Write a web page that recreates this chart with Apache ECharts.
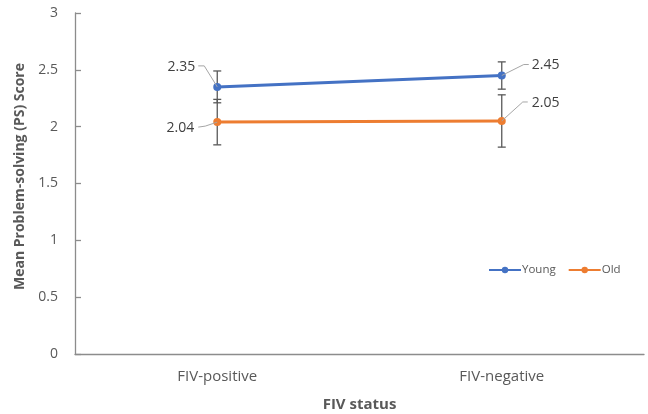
<!DOCTYPE HTML>
<html>
<head>
    <meta charset="UTF-8">
    <title>FIV status chart</title>
    <style>
        body{ margin:0; background-color:#ffffff; }
        #main{ width:648px; height:414px; }
    </style>
    <script src="https://cdn.jsdelivr.net/npm/echarts@6/dist/echarts.min.js"></script>
</head>
<body>
<div id="main"></div>
<script type="text/javascript">
    var categories = ['FIV-positive', 'FIV-negative'];
    var youngMeans = [2.35, 2.45];
    var oldMeans = [2.04, 2.05];
    var youngErr = [0.14, 0.12];
    var oldErr = [0.20, 0.23];
    var yTicks = [0, 0.5, 1, 1.5, 2, 2.5, 3];

    var FONT = '"Open Sans", "Liberation Sans", sans-serif';
    var BLUE = '#4472c4';
    var ORANGE = '#ed7d31';

    // where the value labels sit, relative to the point (elbow, end of line, text anchor)
    var labelPlaces = {
        Young: [
            { elbow: [-13, -21], end: [-19, -21], text: [-22, -20], align: 'right' },
            { elbow: [22, -11], end: [27, -11], text: [30, -11], align: 'left' }
        ],
        Old: [
            { elbow: [-12, 4], end: [-19, 5], text: [-23, 6], align: 'right' },
            { elbow: [21, -19], end: [26, -19], text: [30, -18], align: 'left' }
        ]
    };

    var myChart = echarts.init(document.getElementById('main'));

    function errorBars(means, errs) {
        return means.map(function (m, i) { return [i, m - errs[i], m + errs[i]]; });
    }

    function renderError(params, api) {
        var lo = api.coord([api.value(0), api.value(1)]);
        var hi = api.coord([api.value(0), api.value(2)]);
        var c = 4;
        var st = { stroke: '#595959', lineWidth: 1.3 };
        return {
            type: 'group',
            children: [
                { type: 'line', shape: { x1: lo[0], y1: lo[1], x2: hi[0], y2: hi[1] }, style: st },
                { type: 'line', shape: { x1: lo[0] - c, y1: lo[1], x2: lo[0] + c, y2: lo[1] }, style: st },
                { type: 'line', shape: { x1: hi[0] - c, y1: hi[1], x2: hi[0] + c, y2: hi[1] }, style: st }
            ]
        };
    }

    function labelRenderer(name) {
        return function (params, api) {
            var p = api.coord([api.value(0), api.value(1)]);
            var pl = labelPlaces[name][params.dataIndex];
            return {
                type: 'group',
                children: [
                    {
                        type: 'polyline',
                        shape: { points: [
                            [p[0], p[1]],
                            [p[0] + pl.elbow[0], p[1] + pl.elbow[1]],
                            [p[0] + pl.end[0], p[1] + pl.end[1]]
                        ] },
                        style: { stroke: '#a6a6a6', lineWidth: 1, fill: null }
                    },
                    {
                        type: 'text',
                        x: p[0] + pl.text[0],
                        y: p[1] + pl.text[1],
                        style: {
                            text: api.value(1).toFixed(2),
                            align: pl.align,
                            verticalAlign: 'middle',
                            fill: '#404040',
                            font: '14px ' + FONT
                        }
                    }
                ]
            };
        };
    }

    var option = {
        backgroundColor: '#ffffff',
        animation: false,
        grid: { left: 75, right: 4, top: 13, bottom: 60, outerBoundsMode: 'none' },
        legend: {
            data: ['Young', 'Old'],
            left: 483,
            top: 259,
            itemWidth: 32,
            itemHeight: 8,
            itemGap: 12,
            textStyle: { color: '#595959', fontSize: 11.5, fontFamily: FONT, padding: [0, 0, 0, -4] }
        },
        xAxis: {
            type: 'category',
            data: categories,
            boundaryGap: true,
            name: 'FIV status',
            nameLocation: 'middle',
            nameGap: 43,
            nameTextStyle: { color: '#595959', fontSize: 15, fontWeight: 'bold', fontFamily: FONT },
            axisLine: { lineStyle: { color: '#8c8c8c', width: 1.3 } },
            axisTick: { show: false },
            axisLabel: { color: '#595959', fontSize: 15, fontFamily: FONT, margin: 15 }
        },
        yAxis: {
            type: 'value',
            min: yTicks[0],
            max: yTicks[yTicks.length - 1],
            interval: 0.5,
            name: 'Mean Problem-solving (PS) Score',
            nameLocation: 'middle',
            nameGap: 45,
            nameTextStyle: { color: '#595959', fontSize: 14, fontWeight: 'bold', fontFamily: FONT, padding: [0, 0, 0, 14] },
            axisLine: { show: true, lineStyle: { color: '#8c8c8c', width: 1.3 } },
            axisTick: { show: true, inside: true, length: 6, lineStyle: { color: '#8c8c8c', width: 1.3 } },
            splitLine: { show: false },
            axisLabel: { color: '#595959', fontSize: 14, fontFamily: FONT, margin: 17 }
        },
        series: [
            {
                name: 'Young err',
                type: 'custom',
                renderItem: renderError,
                data: errorBars(youngMeans, youngErr),
                z: 1
            },
            {
                name: 'Old err',
                type: 'custom',
                renderItem: renderError,
                data: errorBars(oldMeans, oldErr),
                z: 1
            },
            {
                name: 'Young',
                type: 'line',
                data: youngMeans,
                symbol: 'circle',
                symbolSize: 8,
                lineStyle: { color: BLUE, width: 3 },
                itemStyle: { color: BLUE },
                z: 3
            },
            {
                name: 'Old',
                type: 'line',
                data: oldMeans,
                symbol: 'circle',
                symbolSize: 8,
                lineStyle: { color: ORANGE, width: 3 },
                itemStyle: { color: ORANGE },
                z: 3
            },
            {
                name: 'Young labels',
                type: 'custom',
                renderItem: labelRenderer('Young'),
                data: youngMeans.map(function (v, i) { return [i, v]; }),
                z: 4
            },
            {
                name: 'Old labels',
                type: 'custom',
                renderItem: labelRenderer('Old'),
                data: oldMeans.map(function (v, i) { return [i, v]; }),
                z: 4
            }
        ]
    };
    myChart.setOption(option);
</script>
</body>
</html>
